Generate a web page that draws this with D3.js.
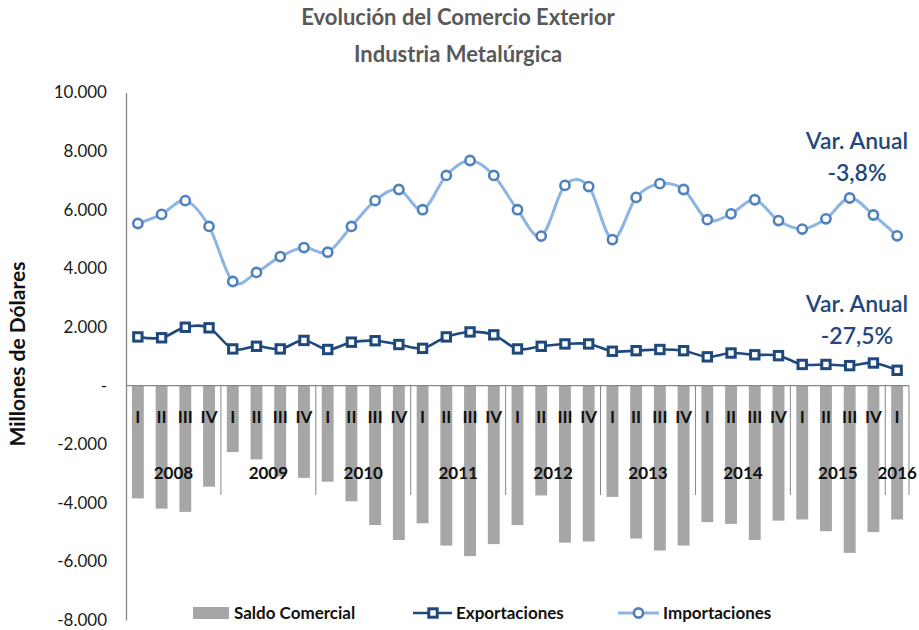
<!DOCTYPE html>
<html>
<head>
<meta charset="utf-8">
<script src="https://cdn.jsdelivr.net/npm/d3@7"></script>
<style>
  html, body { margin: 0; padding: 0; background: #fff; }
  svg { display: block; font-family: Lato, "Open Sans", sans-serif; }
</style>
</head>
<body>
<svg id="chart" width="919" height="630"></svg>
<script>
const quarters = ["I","II","III","IV","I","II","III","IV","I","II","III","IV","I","II","III","IV","I","II","III","IV","I","II","III","IV","I","II","III","IV","I","II","III","IV","I"];
const years = ["2008","2009","2010","2011","2012","2013","2014","2015","2016"];
const importaciones = [5530,5840,6310,5430,3550,3860,4400,4710,4550,5430,6310,6690,6000,7170,7680,7170,6000,5100,6830,6790,4980,6420,6890,6690,5660,5860,6340,5630,5340,5690,6400,5820,5110];
const exportaciones = [1660,1630,1990,1970,1250,1340,1250,1540,1230,1480,1530,1400,1270,1660,1830,1730,1250,1340,1420,1420,1170,1190,1230,1190,980,1110,1050,1020,720,720,680,770,520];
const saldo = [-3850,-4200,-4310,-3450,-2270,-2520,-3100,-3150,-3280,-3950,-4760,-5270,-4700,-5460,-5820,-5410,-4760,-3750,-5360,-5320,-3800,-5220,-5630,-5460,-4660,-4720,-5270,-4610,-4570,-4970,-5710,-5000,-4570];
const yTicks = [10000,8000,6000,4000,2000,0,-2000,-4000,-6000,-8000];
const yTickLabels = ["10.000","8.000","6.000","4.000","2.000","-","-2.000","-4.000","-6.000","-8.000"];
const titleLines = ["Evolución del Comercio Exterior","Industria Metalúrgica"];
const seriesNames = ["Saldo Comercial","Exportaciones","Importaciones"];
const varImp = ["Var. Anual","-3,8%"];
const varExp = ["Var. Anual","-27,5%"];

const svg = d3.select("#chart");
const idx = d3.range(quarters.length);
const x = d3.scaleBand().domain(idx).range([126, 909]).paddingInner(0.5).paddingOuter(0.25);
const y = d3.scaleLinear().domain([-8000, 10000]).range([620, 92.5]);
const cx = i => x(i) + x.bandwidth() / 2;
const step = x.step();
const xLeft = x.range()[0];

// titles
svg.selectAll("text.title").data(titleLines).join("text")
  .attr("class","title")
  .attr("x", 458).attr("y", (d,i) => 25 + i*37)
  .attr("text-anchor","middle")
  .attr("font-size", 22).attr("font-weight", 700).attr("fill", "#595959")
  .text(d => d);

// bars
svg.append("g").selectAll("rect").data(saldo).join("rect")
  .attr("x", (d,i) => x(i)).attr("width", x.bandwidth())
  .attr("y", y(0)).attr("height", d => y(d) - y(0))
  .attr("fill", "#A6A6A6");

// y axis
const yAxis = d3.axisLeft(y).tickValues(yTicks).tickSize(0).tickPadding(19)
  .tickFormat((d,i) => yTickLabels[i]);
const gy = svg.append("g").attr("transform", `translate(${xLeft},0)`).call(yAxis);
gy.select(".domain").attr("stroke", "#868686").attr("stroke-width", 1.3);
gy.selectAll("text").attr("font-size", 17).attr("fill", "#1a1a1a").attr("font-family", "Lato, sans-serif");

// zero line
svg.append("line").attr("x1", xLeft).attr("x2", 909).attr("y1", y(0)).attr("y2", y(0))
  .attr("stroke", "#868686").attr("stroke-width", 1.3);

// year separators
const sepIdx = [];
for (let k = 4; k < quarters.length; k += 4) sepIdx.push(k);
svg.append("g").selectAll("line").data(sepIdx).join("line")
  .attr("x1", k => xLeft + k*step).attr("x2", k => xLeft + k*step)
  .attr("y1", y(0)).attr("y2", 495)
  .attr("stroke", "#868686").attr("stroke-width", 1);
svg.append("line").attr("x1", 909).attr("x2", 909).attr("y1", y(0)).attr("y2", 495)
  .attr("stroke", "#868686").attr("stroke-width", 1);

// quarter labels
svg.append("g").selectAll("text").data(quarters).join("text")
  .attr("x", (d,i) => cx(i)).attr("y", 423)
  .attr("text-anchor","middle").attr("font-size", 17).attr("font-weight", 700).attr("fill", "#111")
  .text(d => d);

// year labels
svg.append("g").selectAll("text").data(years).join("text")
  .attr("x", (d,i) => {
    const first = i*4, last = Math.min(i*4+3, quarters.length-1);
    return (cx(first) + cx(last)) / 2;
  })
  .attr("y", 479)
  .attr("text-anchor","middle").attr("font-size", 17).attr("font-weight", 700).attr("fill", "#111")
  .text(d => d);

// lines
const lineGen = d3.line().x((d,i) => cx(i)).y(d => y(d)).curve(d3.curveCatmullRom.alpha(0));
svg.append("path").datum(importaciones).attr("d", lineGen)
  .attr("fill","none").attr("stroke","#8DB4E2").attr("stroke-width", 3);
svg.append("path").datum(exportaciones).attr("d", lineGen)
  .attr("fill","none").attr("stroke","#1F497D").attr("stroke-width", 2.6);

svg.append("g").selectAll("circle").data(importaciones).join("circle")
  .attr("cx", (d,i) => cx(i)).attr("cy", d => y(d)).attr("r", 4.6)
  .attr("fill","#fff").attr("stroke","#4F81BD").attr("stroke-width", 2.6);
svg.append("g").selectAll("rect").data(exportaciones).join("rect")
  .attr("x", (d,i) => cx(i) - 4.2).attr("y", d => y(d) - 4.2)
  .attr("width", 8.4).attr("height", 8.4)
  .attr("fill","#fff").attr("stroke","#1F497D").attr("stroke-width", 3);

// annotations
function annot(lines, xc, y0) {
  svg.append("g").selectAll("text").data(lines).join("text")
    .attr("x", xc).attr("y", (d,i) => y0 + i*32)
    .attr("text-anchor","middle").attr("font-size", 23).attr("font-weight", 600)
    .attr("fill", "#1F497D").text(d => d);
}
annot(varImp, 857, 149);
annot(varExp, 857, 312);

// y axis title
svg.append("text").attr("transform", "translate(25,354) rotate(-90)")
  .attr("text-anchor","middle").attr("font-size", 21).attr("font-weight", 700).attr("fill","#111")
  .text("Millones de Dólares");

// legend
const lg = svg.append("g");
lg.append("rect").attr("x", 193).attr("y", 607).attr("width", 36).attr("height", 12).attr("fill", "#A6A6A6");
lg.append("line").attr("x1", 413).attr("x2", 452).attr("y1", 613).attr("y2", 613).attr("stroke","#1F497D").attr("stroke-width", 2.6);
lg.append("rect").attr("x", 428.8).attr("y", 608.8).attr("width", 8.4).attr("height", 8.4).attr("fill","#fff").attr("stroke","#1F497D").attr("stroke-width", 3);
lg.append("line").attr("x1", 618).attr("x2", 659).attr("y1", 613).attr("y2", 613).attr("stroke","#8DB4E2").attr("stroke-width", 3);
lg.append("circle").attr("cx", 638.5).attr("cy", 613).attr("r", 4.6).attr("fill","#fff").attr("stroke","#4F81BD").attr("stroke-width", 2.6);
const legX = [234, 456, 663];
lg.selectAll("text").data(seriesNames).join("text")
  .attr("x", (d,i) => legX[i]).attr("y", 619)
  .attr("font-size", 17).attr("font-weight", 700).attr("fill", "#111")
  .text(d => d);
</script>
</body>
</html>
